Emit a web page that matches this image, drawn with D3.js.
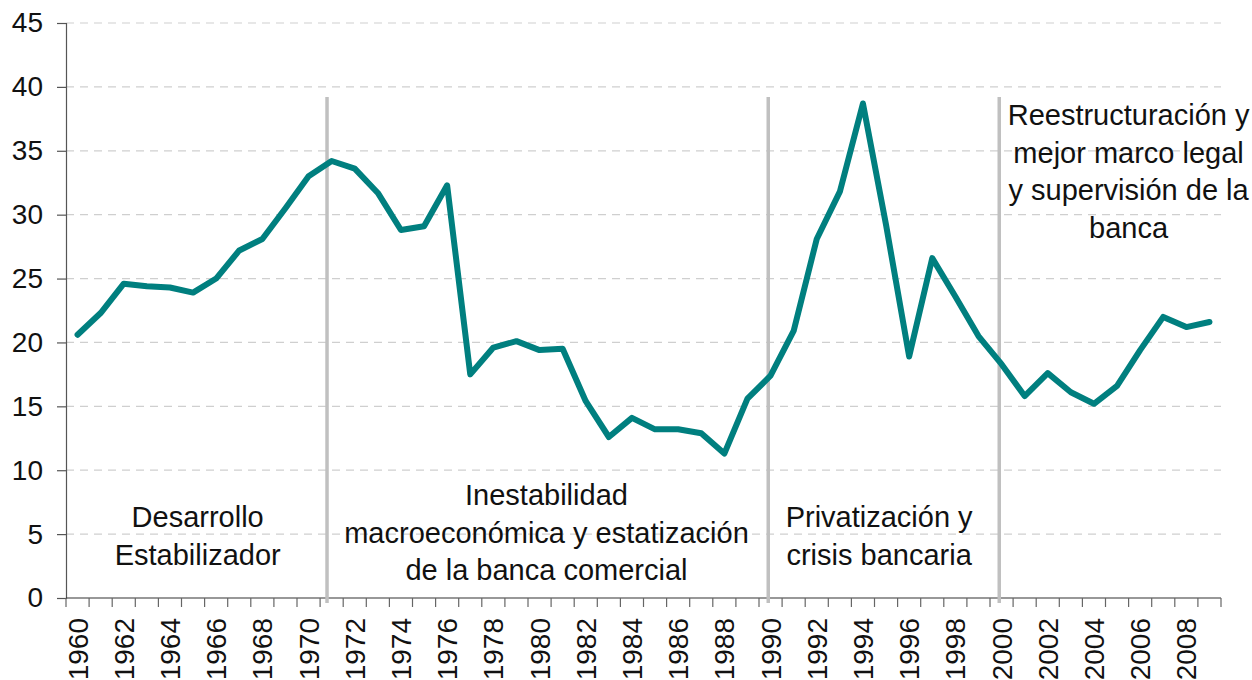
<!DOCTYPE html>
<html>
<head>
<meta charset="utf-8">
<script src="https://d3js.org/d3.v7.min.js"></script>
<style>
  body { margin: 0; background: #fff; }
  text { font-family: "Liberation Sans", Arial, sans-serif; }
</style>
</head>
<body>
<svg width="1252" height="680"></svg>
<script>
// data
var years = d3.range(1960, 2010);
var values = [20.6, 22.3, 24.6, 24.4, 24.3, 23.9, 25.0, 27.2, 28.1, 30.5,
              33.0, 34.2, 33.6, 31.7, 28.8, 29.1, 32.3, 17.5, 19.6, 20.1,
              19.4, 19.5, 15.4, 12.6, 14.1, 13.2, 13.2, 12.9, 11.3, 15.6,
              17.4, 20.9, 28.1, 31.8, 38.7, 29.2, 18.9, 26.6, 23.6, 20.5,
              18.3, 15.8, 17.6, 16.1, 15.2, 16.6, 19.4, 22.0, 21.2, 21.6];
var yTicks = [0, 5, 10, 15, 20, 25, 30, 35, 40, 45];
var periodBreaks = [1970.8, 1989.9, 1999.9];
var periodLabels = [
  {lines: ["Desarrollo", "Estabilizador"], x: 1965.2, y: 527},
  {lines: ["Inestabilidad", "macroeconómica y estatización", "de la banca comercial"], x: 1980.3, y: 505},
  {lines: ["Privatización y", "crisis bancaria"], x: 1994.7, y: 527},
  {lines: ["Reestructuración y", "mejor marco legal", "y supervisión de la", "banca"], x: 2005.5, y: 125}
];

var svg = d3.select("svg");
var margin = {left: 66, top: 23, right: 31, bottom: 82};
var width = 1252 - margin.left - margin.right;
var height = 680 - margin.top - margin.bottom;
var g = svg.append("g").attr("transform", "translate(" + margin.left + "," + margin.top + ")");

var x = d3.scaleLinear().domain([1959.5, 2009.5]).range([0, width]);
var y = d3.scaleLinear().domain([0, 45]).range([height, 0]);

// gridlines
g.append("g").selectAll("line")
  .data(yTicks.filter(function(d){ return d > 0; }))
  .enter().append("line")
  .attr("x1", 0).attr("x2", width)
  .attr("y1", function(d){ return y(d); })
  .attr("y2", function(d){ return y(d); })
  .attr("stroke", "#cfcfcf")
  .attr("stroke-width", 1.2)
  .attr("stroke-dasharray", "8,6");

// y axis
var yAxis = g.append("g")
  .call(d3.axisLeft(y).tickValues(yTicks).tickSize(9).tickPadding(14));
yAxis.select(".domain").attr("stroke", "#555").attr("stroke-width", 1.2);
yAxis.selectAll(".tick line").attr("stroke", "#555").attr("stroke-width", 1.2);
yAxis.selectAll("text").attr("font-size", 28).attr("fill", "#111")
  .style("font-family", "'Liberation Sans', Arial, sans-serif");

// x axis: ticks between years, labels every 2 years
var xAxis = g.append("g").attr("transform", "translate(0," + height + ")");
xAxis.append("line").attr("x1", 0).attr("x2", width)
  .attr("stroke", "#333").attr("stroke-width", 1.2);
xAxis.selectAll(".tk")
  .data(d3.range(1959.5, 2010.5, 1))
  .enter().append("line")
  .attr("x1", function(d){ return x(d); })
  .attr("x2", function(d){ return x(d); })
  .attr("y1", 0).attr("y2", 9)
  .attr("stroke", "#666").attr("stroke-width", 1.2);
xAxis.selectAll(".lbl")
  .data(years.filter(function(d){ return d % 2 === 0; }))
  .enter().append("text")
  .attr("transform", function(d){ return "translate(" + x(d) + ",0) rotate(-90)"; })
  .attr("x", -20).attr("dy", "0.36em")
  .attr("text-anchor", "end")
  .attr("font-size", 28).attr("fill", "#111")
  .text(function(d){ return d; });

// period separators
g.selectAll(".sep")
  .data(periodBreaks)
  .enter().append("line")
  .attr("x1", function(d){ return x(d); })
  .attr("x2", function(d){ return x(d); })
  .attr("y1", y(39.2)).attr("y2", height + 5)
  .attr("stroke", "#c0c0c0").attr("stroke-width", 3.5);

// period labels
periodLabels.forEach(function(p){
  var t = g.append("text")
    .attr("text-anchor", "middle")
    .attr("font-size", 29).attr("fill", "#111");
  p.lines.forEach(function(l, i){
    t.append("tspan")
      .attr("x", x(p.x))
      .attr("y", p.y - margin.top + i * 37.5)
      .text(l);
  });
});

// series line
var line = d3.line()
  .x(function(d, i){ return x(years[i]); })
  .y(function(d){ return y(d); });
g.append("path")
  .datum(values)
  .attr("d", line)
  .attr("fill", "none")
  .attr("stroke", "#007f7f")
  .attr("stroke-width", 6)
  .attr("stroke-linejoin", "round")
  .attr("stroke-linecap", "round");
</script>
</body>
</html>
